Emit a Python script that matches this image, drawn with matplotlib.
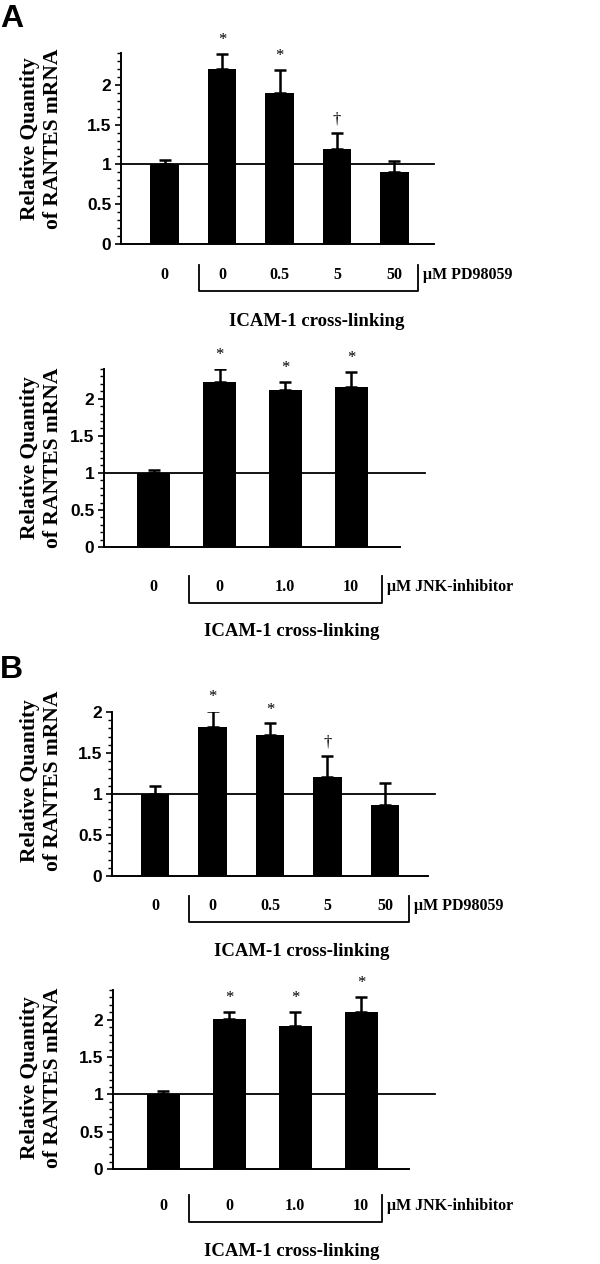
import matplotlib
matplotlib.use("Agg")
import matplotlib.pyplot as plt
import matplotlib.transforms as mtransforms
from matplotlib.ticker import MultipleLocator

# datos
pd_labels = ['0', '0', '0.5', '5', '50']
jnk_labels = ['0', '0', '1.0', '10']

a1_vals = [1.0, 2.2, 1.9, 1.19, 0.9]
a1_err = [0.05, 0.19, 0.29, 0.20, 0.14]
a1_marks = ['', '*', '*', '\u2020', '']

a2_vals = [1.0, 2.22, 2.12, 2.16]
a2_err = [0.04, 0.18, 0.10, 0.20]
a2_marks = ['', '*', '*', '*']

b1_vals = [1.0, 1.82, 1.72, 1.21, 0.87]
b1_err = [0.10, 0.19, 0.14, 0.25, 0.27]
b1_marks = ['', '*', '*', '\u2020', '']

b2_vals = [1.0, 2.01, 1.92, 2.11]
b2_err = [0.05, 0.10, 0.19, 0.20]
b2_marks = ['', '*', '*', '*']

W, H = 600, 1264
fig = plt.figure(figsize=(W / 100, H / 100), dpi=100)

serif = 'Liberation Serif'
sans = 'Liberation Sans'


def fy(py):
    return 1 - py / H


def panel(vals, err, marks, labels, unit, box, ymax, centre, spacing,
          ref_end, br, lab_y, br_y, icam, ylab_y):
    left, top, right, bottom = box
    ax = fig.add_axes([left / W, fy(bottom), (right - left) / W, (bottom - top) / H])
    x = list(range(len(vals)))
    ax.bar(x, vals, width=0.5, color='black')
    ax.errorbar(x, vals, yerr=[[0] * len(vals), err], fmt='none', ecolor='black',
                elinewidth=1.8, capsize=4, capthick=1.8)
    ax.set_xlim((left - centre) / spacing, (right - centre) / spacing)
    ax.set_ylim(0, ymax)
    ax.plot([ax.get_xlim()[0], (ref_end - centre) / spacing], [1, 1], color='black',
            lw=1.3, clip_on=False)
    for i in x:
        if marks[i]:
            ax.annotate(marks[i], (i, vals[i] + err[i]), xytext=(0, 10),
                        textcoords='offset points', ha='center', va='center',
                        fontsize=12, family=serif, annotation_clip=False)
    for s in ['top', 'right']:
        ax.spines[s].set_visible(False)
    ax.spines['left'].set_linewidth(1.4)
    ax.spines['bottom'].set_linewidth(1.4)
    ax.set_xticks([])
    ax.yaxis.set_minor_locator(MultipleLocator(0.1))
    n = int(ymax / 0.5) + 1
    ax.set_yticks([v * 0.5 for v in range(n)])
    ax.set_yticklabels(['0', '0.5', '1', '1.5', '2'][:n])
    ax.tick_params(axis='y', which='major', length=4, width=1.2, pad=3)
    ax.tick_params(axis='y', which='minor', length=3, width=1)
    for t in ax.get_yticklabels():
        t.set_fontfamily(sans)
        t.set_fontweight('bold')
        t.set_fontsize(12.5)

    tr = mtransforms.blended_transform_factory(ax.transData, fig.transFigure)
    for i, lab in enumerate(labels):
        ax.text(i, fy(lab_y), lab, transform=tr, ha='center', va='center',
                fontsize=11.5, fontweight='bold', family=serif)
    ax.text(br[1] + 0.08, fy(lab_y), '\u03bcM ' + unit, transform=tr, ha='left',
            va='center', fontsize=11.5, fontweight='bold', family=serif)
    ax.plot([br[0], br[0], br[1], br[1]], [fy(br_y[0]), fy(br_y[1]), fy(br_y[1]), fy(br_y[0])],
            color='black', lw=1.3, transform=tr, clip_on=False)
    fig.text(icam[0] / W, fy(icam[1]), 'ICAM-1 cross-linking', ha='center', va='center',
             fontsize=13.5, fontweight='bold', family=serif)
    fig.text(42 / W, fy(ylab_y), 'Relative Quantity\nof RANTES mRNA', rotation=90,
             ha='center', va='center', multialignment='center', linespacing=1.2,
             fontsize=15.5, fontweight='bold', family=serif)
    return ax


panel(a1_vals, a1_err, a1_marks, pd_labels, 'PD98059', (121, 53, 434, 244), 2.4,
      164.5, 57.5, 434, (0.6, 4.41), 275, (265, 291), (317, 321), 139)
panel(a2_vals, a2_err, a2_marks, jnk_labels, 'JNK-inhibitor', (104, 369, 400, 547), 2.4,
      153.7, 65.8, 425, (0.54, 3.47), 587, (576, 603), (292, 631), 458)
panel(b1_vals, b1_err, b1_marks, pd_labels, 'PD98059', (112, 712, 428, 876), 2.0,
      155, 57.5, 435, (0.59, 4.42), 906, (896, 922), (302, 952), 781)
panel(b2_vals, b2_err, b2_marks, jnk_labels, 'JNK-inhibitor', (113, 990, 409, 1169), 2.4,
      163, 66, 435, (0.39, 3.32), 1206, (1195, 1222), (292, 1252), 1078)

fig.text(0, fy(4), 'A', ha='left', va='top', fontsize=23, fontweight='bold', family=sans)
fig.text(0, fy(655), 'B', ha='left', va='top', fontsize=23, fontweight='bold', family=sans)

fig.savefig('out.png', dpi=100)
